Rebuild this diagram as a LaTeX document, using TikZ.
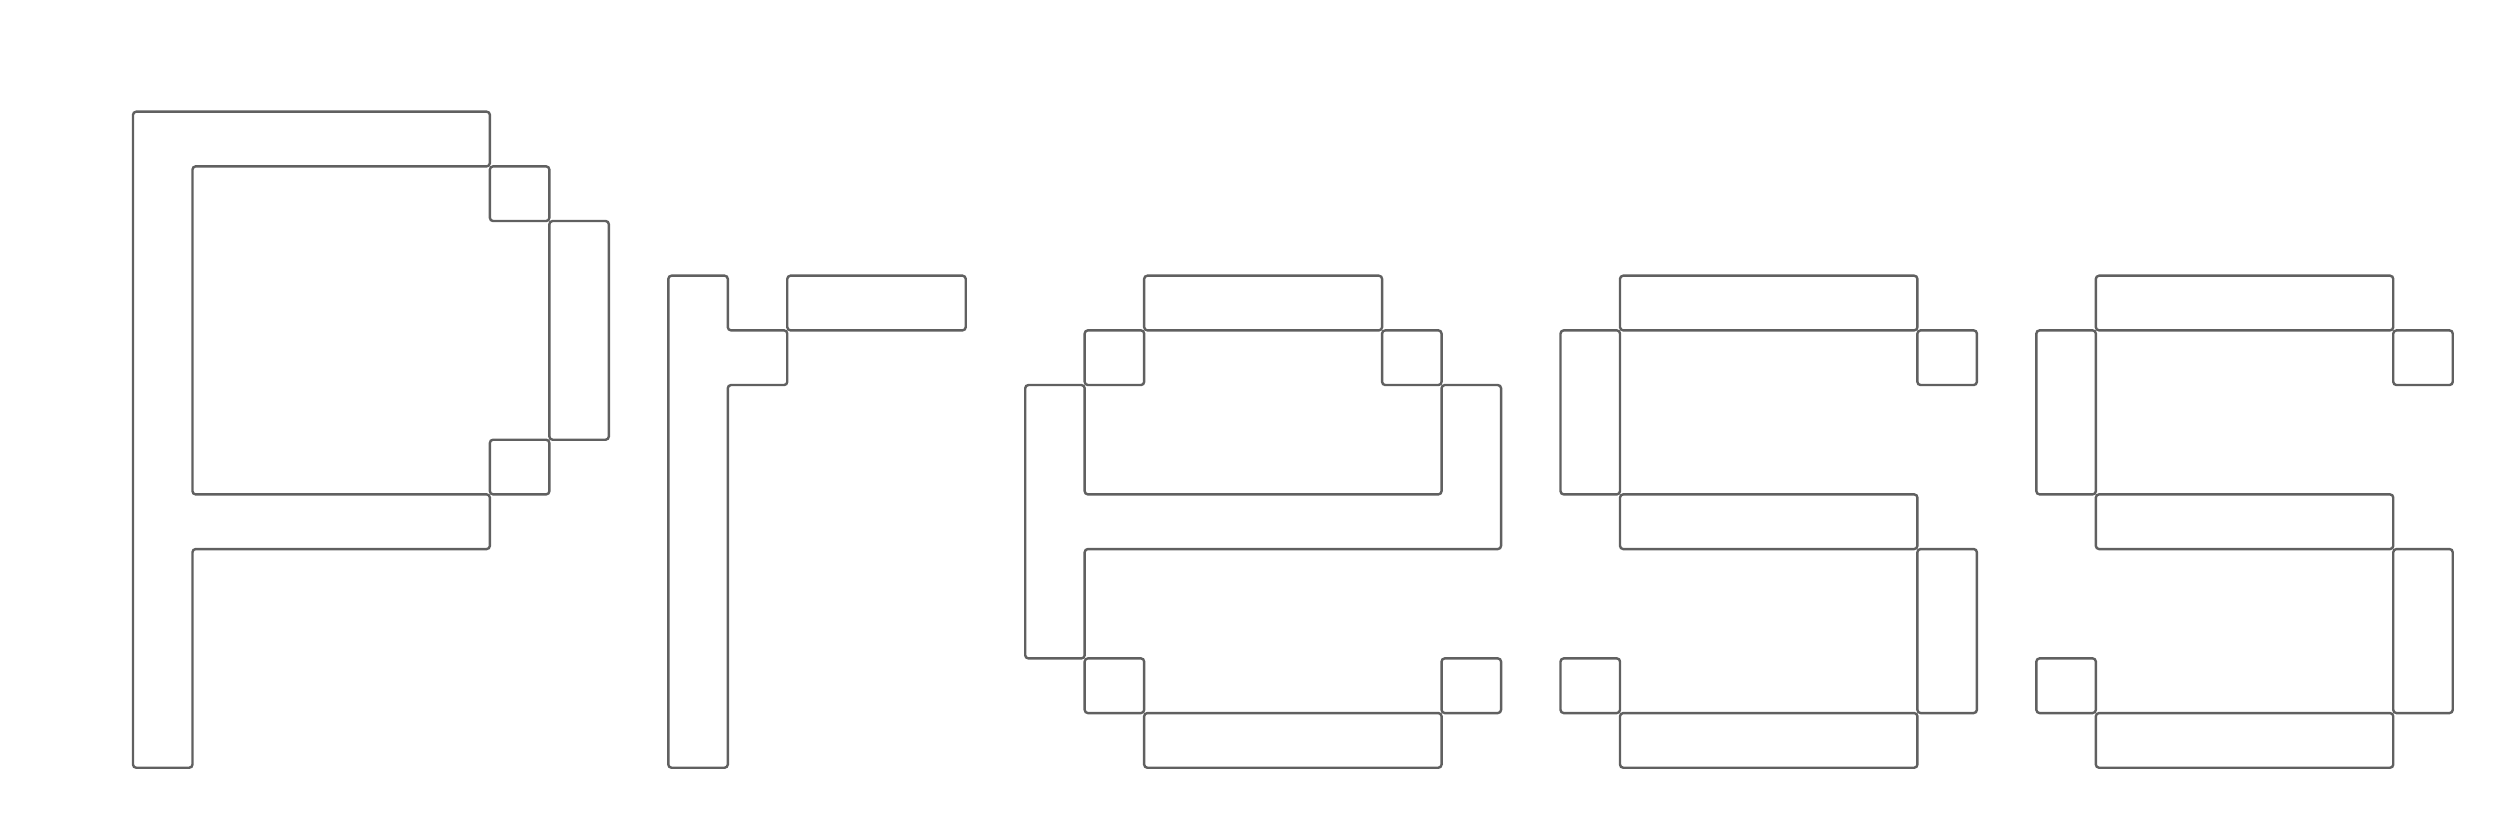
\documentclass[tikz,border=0pt]{standalone}
\definecolor{linegray}{RGB}{96,96,96}
\tikzset{pix/.style={draw=linegray, line width=1.2pt, rounded corners=1.6pt}}
\begin{document}
\begin{tikzpicture}[x=29.74pt, y=-27.335pt]
\useasboundingbox (-2.236,-2.043) rectangle (39.896,13.102);
% P
\draw[pix] (0,0) -- (6,0) -- (6,1) -- (1,1) -- (1,7) -- (6,7) -- (6,8) -- (1,8) -- (1,12) -- (0,12) -- cycle;
\draw[pix] (6,1) rectangle (7,2);
\draw[pix] (7,2) rectangle (8,6);
\draw[pix] (6,6) rectangle (7,7);
% r
\draw[pix] (9,3) -- (10,3) -- (10,4) -- (11,4) -- (11,5) -- (10,5) -- (10,12) -- (9,12) -- cycle;
\draw[pix] (11,3) rectangle (14,4);
% e
\draw[pix] (17,3) rectangle (21,4);
\draw[pix] (16,4) rectangle (17,5);
\draw[pix] (21,4) rectangle (22,5);
\draw[pix] (15,5) -- (16,5) -- (16,7) -- (22,7) -- (22,5) -- (23,5) -- (23,8) -- (16,8) -- (16,10) -- (15,10) -- cycle;
\draw[pix] (16,10) rectangle (17,11);
\draw[pix] (17,11) rectangle (22,12);
\draw[pix] (22,10) rectangle (23,11);
% s, s
\foreach \o in {24,32}{
\begin{scope}[shift={(\o,0)}]
\draw[pix] (0,4) rectangle (1,7);
\draw[pix] (1,3) rectangle (6,4);
\draw[pix] (6,4) rectangle (7,5);
\draw[pix] (1,7) rectangle (6,8);
\draw[pix] (6,8) rectangle (7,11);
\draw[pix] (0,10) rectangle (1,11);
\draw[pix] (1,11) rectangle (6,12);
\end{scope}
}
\end{tikzpicture}
\end{document}
